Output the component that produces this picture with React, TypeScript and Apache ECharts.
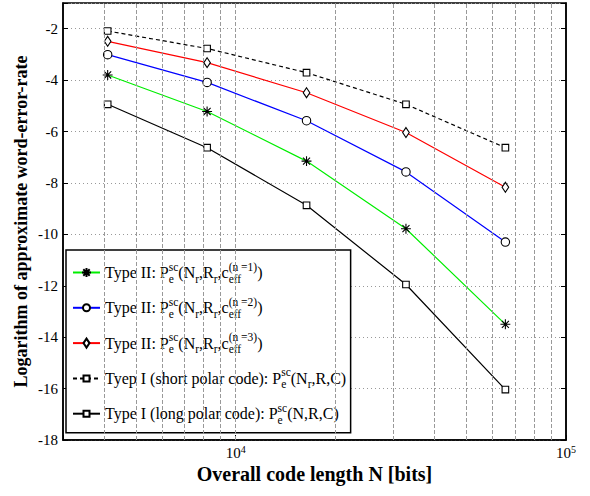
import React, { useEffect, useRef } from "react";
import * as echarts from "echarts";

const codeLengths = [4096, 8192, 16384, 32768, 65536];
const typeIIn1 = [-3.8, -5.22, -7.15, -9.78, -13.5];
const typeIIn2 = [-3.01, -4.09, -5.58, -7.57, -10.3];
const typeIIn3 = [-2.49, -3.32, -4.49, -6.04, -8.17];
const typeIShort = [-2.09, -2.77, -3.71, -4.94, -6.63];
const typeILong = [-4.94, -6.63, -8.87, -11.95, -16.04];
const verticalGrid = [4000, 5000, 6000, 7000, 8000, 9000, 10000, 20000, 30000, 40000, 50000, 60000, 70000, 80000, 90000];

const seriesNames = ["n1", "n2", "n3", "short", "long"];
const legendTexts: Record<string, string> = {
  n1: "{t|Type II: P}{sz|e}{sp|sc}{t|(N}{sb|r}{t|,R}{sb|r}{t|,c}{sz|eff}{sp|(n =1)}{t|)}",
  n2: "{t|Type II: P}{sz|e}{sp|sc}{t|(N}{sb|r}{t|,R}{sb|r}{t|,c}{sz|eff}{sp|(n =2)}{t|)}",
  n3: "{t|Type II: P}{sz|e}{sp|sc}{t|(N}{sb|r}{t|,R}{sb|r}{t|,c}{sz|eff}{sp|(n =3)}{t|)}",
  short: "{t|Tyep I (short polar code): P}{sz|e}{sp|sc}{t|(N}{sb|r}{t|,R,C)}",
  long: "{t|Type I (long polar code): P}{sz|e}{sp|sc}{t|(N,R,C)}",
};

const FONT = "'Liberation Serif', 'Times New Roman', 'DejaVu Serif', serif";
// all marker paths live in a 10x10 box (corner points fix the box)
const BOX = "M0,0L0,0M10,10L10,10";
const ASTERISK = "path://" + BOX + "M5,0.5L5,9.5M0.5,5L9.5,5M1.8,1.8L8.2,8.2M1.8,8.2L8.2,1.8";
const CIRCLE = "path://" + BOX + "M8.5,5A3.5,3.5 0 1 1 1.5,5A3.5,3.5 0 1 1 8.5,5Z";
const DIAMOND = "path://" + BOX + "M5,0.5L8,5L5,9.5L2,5Z";
const SQUARE = "path://" + BOX + "M2,2L8,2L8,8L2,8Z";

function pairs(vals: number[]) {
  return codeLengths.map((n, i) => [n, vals[i]]);
}

export default function App() {
  const ref = useRef<HTMLDivElement>(null);
  useEffect(() => {
    if (!ref.current) return;
    const chart = echarts.init(ref.current, null, { renderer: "svg" });
    const mk = (name: string, vals: number[], color: string, symbol: string, size: number, dashed = false) => ({
      name,
      type: "line",
      data: pairs(vals),
      symbol,
      symbolSize: size,
      showAllSymbol: true,
      z: 3,
      lineStyle: { color, width: 1.2, type: dashed ? [4, 3] : "solid" },
      itemStyle: { color: "#fff", borderColor: "#000", borderWidth: 1.1 },
      emphasis: { disabled: true },
    });
    chart.setOption({
      animation: false,
      backgroundColor: "#fff",
      textStyle: { fontFamily: FONT },
      grid: { left: 63, right: 24, top: 3, bottom: 56, show: true, borderColor: "#000", borderWidth: 1.5, backgroundColor: "#fff" },
      xAxis: {
        type: "log",
        logBase: 10,
        min: 3000,
        max: 100000,
        name: "Overall code length N [bits]",
        nameLocation: "middle",
        nameGap: 24,
        nameMoveOverlap: false,
        nameTextStyle: { fontFamily: FONT, fontSize: 20, fontWeight: "bold", color: "#000", verticalAlign: "top" },
        axisLine: { show: true, lineStyle: { color: "#000", width: 1.5 } },
        axisTick: { show: true, inside: true, length: 5, lineStyle: { color: "#000" } },
        splitLine: { show: false },
        axisLabel: {
          margin: 4,
          color: "#000",
          fontFamily: FONT,
          formatter: (v: number) => {
            const l = Math.log10(v);
            if (Math.abs(l - Math.round(l)) < 1e-6) return "{b|10}{s|" + Math.round(l) + "}";
            return "";
          },
          rich: {
            b: { fontFamily: FONT, fontSize: 15, color: "#000", lineHeight: 17 },
            s: { fontFamily: FONT, fontSize: 10, color: "#000", verticalAlign: "top", lineHeight: 9 },
          },
        },
      },
      yAxis: [
        {
          type: "value",
          min: -18,
          max: -1,
          interval: 2,
          name: "Logarithm of approximate word-error-rate",
          nameLocation: "middle",
          nameGap: 33,
          nameMoveOverlap: false,
          nameTextStyle: { fontFamily: FONT, fontSize: 18, fontWeight: "bold", color: "#000" },
          axisLine: { show: true, lineStyle: { color: "#000", width: 1.5 } },
          axisTick: { show: true, inside: true, length: 5, lineStyle: { color: "#000" } },
          axisLabel: {
            margin: 5,
            color: "#000",
            fontFamily: FONT,
            fontSize: 15,
            formatter: (v: number) => (v === -1 ? "" : String(v)),
          },
          splitLine: { show: true, lineStyle: { color: "#999", type: [1, 3], width: 1 } },
        },
        {
          type: "value",
          position: "right",
          min: -18,
          max: -1,
          interval: 2,
          axisLine: { show: true, lineStyle: { color: "#000", width: 1.5 } },
          axisTick: { show: true, inside: true, length: 5, lineStyle: { color: "#000" } },
          axisLabel: { show: false },
          splitLine: { show: false },
        },
      ],
      legend: {
        data: seriesNames,
        orient: "vertical",
        left: 66,
        top: 250,
        itemWidth: 27,
        itemHeight: 12.5,
        itemGap: 11.3,
        padding: [10.5, 4.5, 7, 6],
        backgroundColor: "#fff",
        borderColor: "#000",
        borderWidth: 1.5,
        borderRadius: 0,
        selectedMode: false,
        formatter: (name: string) => legendTexts[name],
        textStyle: {
          fontFamily: FONT,
          fontSize: 16,
          color: "#000",
          lineHeight: 24,
          rich: {
            t: { fontFamily: FONT, fontSize: 16, color: "#000", lineHeight: 24 },
            sz: { fontFamily: FONT, fontSize: 11.5, color: "#000", verticalAlign: "bottom", lineHeight: 7, width: 0 },
            sb: { fontFamily: FONT, fontSize: 11.5, color: "#000", verticalAlign: "bottom", lineHeight: 7 },
            sp: { fontFamily: FONT, fontSize: 11.5, color: "#000", verticalAlign: "top", lineHeight: 10 },
          },
        },
      },
      series: [
        {
          name: "grid",
          type: "line",
          data: [],
          z: 1,
          silent: true,
          markLine: {
            silent: true,
            symbol: "none",
            label: { show: false },
            lineStyle: { color: "#999", type: [4, 2], width: 1 },
            emphasis: { disabled: true },
            data: verticalGrid.map((v) => ({ xAxis: v })),
          },
        },
        mk("n1", typeIIn1, "#00ee00", ASTERISK, 11),
        mk("n2", typeIIn2, "#0000ff", CIRCLE, 12),
        mk("n3", typeIIn3, "#ff0000", DIAMOND, 11),
        mk("short", typeIShort, "#000", SQUARE, 11, true),
        mk("long", typeILong, "#000", SQUARE, 11),
      ],
    });
    return () => chart.dispose();
  }, []);
  return <div ref={ref} style={{ position: "absolute", left: 0, top: 0, width: 590, height: 496 }} />;
}
